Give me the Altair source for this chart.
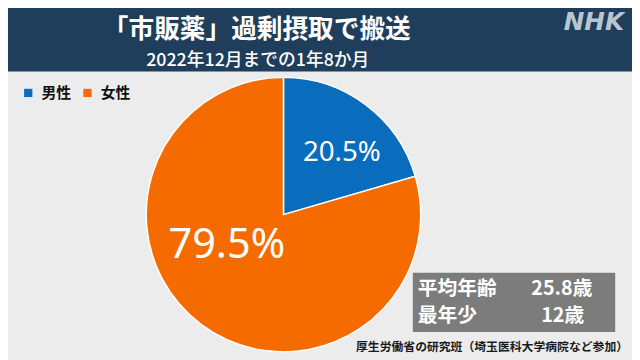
import altair as alt
import pandas as pd

# ---- data ----
categories = ["男性", "女性"]
shares = [20.5, 79.5]
share_labels = ["20.5%", "79.5%"]
stat_names = ["平均年齢", "最年少"]
stat_values = ["25.8歳", "12歳"]
title_text = "「市販薬」過剰摂取で搬送"
subtitle_text = "2022年12月までの1年8か月"
source_text = "厚生労働省の研究班（埼玉医科大学病院など参加）"

colors = ["#0a6cbd", "#f56b00"]
JP = "Noto Sans CJK JP"

W, H = 632, 352
CX, CY, R = 279, 207, 139

pie_df = pd.DataFrame({
    "sex": categories,
    "value": shares,
    "label": share_labels,
    "order": list(range(len(categories))),
})
stats_df = pd.DataFrame({"name": stat_names, "val": stat_values, "row": [0, 1]})
one = pd.DataFrame({"k": [0]})

base = (
    alt.Chart(pie_df)
    .transform_stack(stack="value", groupby=[], as_=["v0", "v1"],
                     sort=[alt.SortField("order", order="ascending")])
    .transform_calculate(mid="(datum.v0 + datum.v1) / 2")
)
theta_scale = alt.Scale(domain=[0, 100])

pie = base.mark_arc(outerRadius=R, stroke="white", strokeWidth=1.5).encode(
    x=alt.value(CX), y=alt.value(CY),
    theta=alt.Theta("v0:Q", scale=theta_scale, stack=None),
    theta2="v1:Q",
    color=alt.Color(
        "sex:N",
        scale=alt.Scale(domain=categories, range=colors),
        legend=alt.Legend(
            title=None, orient="none", legendX=13, legendY=76,
            direction="horizontal", symbolType="square", symbolSize=70,
            symbolStrokeWidth=0, labelFont=JP, labelFontSize=15,
            labelFontWeight="bold", labelColor="#111", columnPadding=8,
            labelOffset=6, padding=0,
        ),
    ),
)

lab_small = base.transform_filter(alt.datum.sex == categories[0]).mark_text(
    font="Noto Sans", fontSize=28, color="white", dx=8, dy=6, baseline="middle"
).encode(
    x=alt.value(CX), y=alt.value(CY),
    theta=alt.Theta("mid:Q", scale=theta_scale, stack=None),
    radius=alt.value(85),
    text="label:N",
)
lab_big = base.transform_filter(alt.datum.sex == categories[1]).mark_text(
    font="Noto Sans", fontSize=42, color="white", dx=-13, dy=-28, baseline="middle"
).encode(
    x=alt.value(CX), y=alt.value(CY),
    theta=alt.Theta("mid:Q", scale=theta_scale, stack=None),
    radius=alt.value(74),
    text="label:N",
)

header = alt.Chart(one).mark_rect(color="#1f3e5b").encode(
    x=alt.value(-10), x2=alt.value(W + 10), y=alt.value(-10), y2=alt.value(62)
)
title = alt.Chart(one).mark_text(
    text=title_text, font=JP, fontSize=26, fontWeight="bold", color="white",
    align="center", baseline="middle"
).encode(x=alt.value(252), y=alt.value(20))
subtitle = alt.Chart(one).mark_text(
    text=subtitle_text, font=JP, fontSize=18, fontWeight=500, color="white",
    align="center", baseline="middle"
).encode(x=alt.value(253), y=alt.value(51))
nhk = alt.Chart(one).mark_text(
    text="NHK", font="DejaVu Sans", fontSize=25, fontWeight="bold", fontStyle="italic",
    color="#b9c6d2", align="right", baseline="middle"
).encode(x=alt.value(624), y=alt.value(12))

box = alt.Chart(one).mark_rect(color="#7c7c7c").encode(
    x=alt.value(410), x2=alt.value(615), y=alt.value(266), y2=alt.value(326)
)
stat_y = alt.Y("row:Q", scale=alt.Scale(domain=[0, 1], range=[282, 310]), axis=None)
stat_names_t = alt.Chart(stats_df).mark_text(
    font=JP, fontSize=20, fontWeight="bold", color="white", align="left", baseline="middle"
).encode(x=alt.value(415), y=stat_y, text="name:N")
stat_vals_t = alt.Chart(stats_df).mark_text(
    font=JP, fontSize=20, fontWeight="bold", color="white", align="left", baseline="middle"
).encode(
    x=alt.X("row:Q", scale=alt.Scale(domain=[0, 1], range=[530, 540]), axis=None),
    y=stat_y, text="val:N",
)

source = alt.Chart(one).mark_text(
    text=source_text, font=JP, fontSize=12, fontWeight="bold", color="#1a1a1a",
    align="right", baseline="middle"
).encode(x=alt.value(628), y=alt.value(341))

chart = alt.layer(
    header, title, subtitle, nhk, pie, lab_small, lab_big,
    box, stat_names_t, stat_vals_t, source
).resolve_scale(x="independent", y="independent").properties(
    width=W, height=H, background="#ececec", padding=0,
    autosize=alt.AutoSizeParams(type="none"),
).configure_view(stroke=None)

chart.save("out.html", embed_options={"renderer": "svg", "actions": False})
